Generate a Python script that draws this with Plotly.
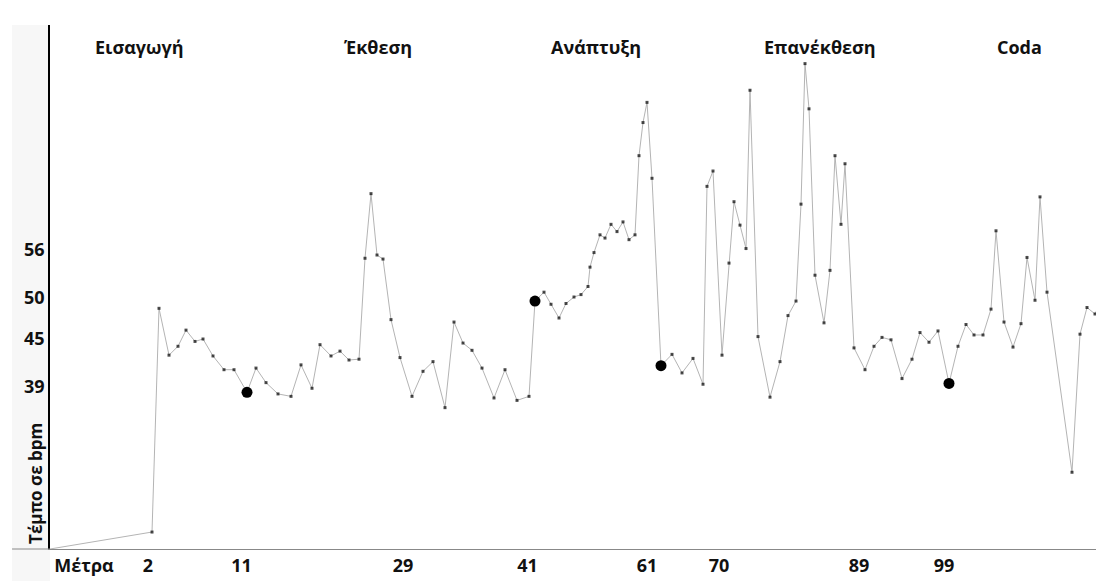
import plotly.graph_objects as go

# Time position of each tempo measurement (arbitrary time units along the piece)
t = [0.0, 10.2, 10.9, 11.9, 12.8, 13.6, 14.5, 15.3, 16.3, 17.4, 18.4, 19.7, 20.6, 21.6, 22.8,
     24.1, 25.1, 26.2, 27.0, 28.1, 29.0, 29.9, 30.9, 31.5, 32.1, 32.7, 33.3, 34.1, 35.0, 36.2,
     37.3, 38.3, 39.5, 40.4, 41.3, 42.2, 43.2, 44.4, 45.5, 46.7, 47.9, 48.5, 49.4, 50.1, 50.9,
     51.6, 52.4, 53.1, 53.8, 54.0, 54.4, 55.0, 55.5, 56.1, 56.7, 57.3, 57.9, 58.5, 58.9, 59.3,
     59.7, 60.2, 61.1, 62.2, 63.2, 64.3, 65.3, 65.7, 66.3, 67.2, 67.9, 68.4, 69.0, 69.6, 70.0,
     70.8, 72.0, 73.0, 73.8, 74.6, 75.1, 75.5, 75.9, 76.5, 77.4, 78.0, 78.5, 79.1, 79.5, 80.4,
     81.5, 82.4, 83.2, 84.1, 85.2, 86.2, 87.0, 87.9, 88.8, 89.9, 90.8, 91.6, 92.4, 93.3, 94.1,
     94.6, 95.4, 96.3, 97.1, 97.7, 98.5, 99.0, 99.7, 102.2, 103.0, 103.7, 104.5, 105.2]

# Tempo in bpm
bpm = [18.9, 21.0, 48.7, 42.9, 44.0, 46.0, 44.6, 44.9, 42.8, 41.1, 41.1, 38.3, 41.3, 39.5, 38.1,
       37.8, 41.7, 38.8, 44.2, 42.8, 43.4, 42.3, 42.4, 54.9, 62.9, 55.3, 54.8, 47.3, 42.6, 37.8,
       40.9, 42.1, 36.4, 47.0, 44.4, 43.5, 41.3, 37.6, 41.1, 37.3, 37.8, 49.6, 50.7, 49.2, 47.5,
       49.3, 50.1, 50.4, 51.4, 53.8, 55.6, 57.8, 57.4, 59.1, 58.2, 59.4, 57.2, 57.8, 67.6, 71.7,
       74.2, 64.8, 41.6, 43.0, 40.7, 42.5, 39.3, 63.8, 65.7, 42.9, 54.3, 61.9, 59.0, 56.1, 75.7,
       45.2, 37.7, 42.1, 47.8, 49.6, 61.6, 79.0, 73.4, 52.8, 46.9, 53.4, 67.6, 59.1, 66.6, 43.8,
       41.1, 44.0, 45.1, 44.8, 40.0, 42.4, 45.7, 44.5, 45.9, 39.4, 44.0, 46.7, 45.4, 45.4, 48.6,
       58.3, 47.0, 43.9, 46.8, 55.0, 49.7, 62.5, 50.7, 28.4, 45.5, 48.8, 48.0, 49.8]

# Indices of the highlighted points (section boundaries)
highlight_idx = [11, 41, 62, 99]

# Measure labels on the time axis
measure_labels = ["Μέτρα", "2", "11", "29", "41", "61", "70", "89", "99"]
measure_pos = [3.4, 9.8, 19.15, 35.3, 47.75, 59.7, 66.9, 80.9, 89.4]

# Tempo tick labels
bpm_ticks = [39, 45, 50, 56]

# Form sections
sections = ["Εισαγωγή", "Έκθεση", "Ανάπτυξη", "Επανέκθεση", "Coda"]
section_pos = [8.9, 32.75, 54.6, 77.0, 96.95]

FONT = "Open Sans"

fig = go.Figure()

sizes = [0] + [3] * (len(t) - 1)
fig.add_trace(go.Scatter(
    x=t, y=bpm, mode="lines+markers",
    line=dict(color="#b4b4b4", width=1),
    marker=dict(symbol="square", size=sizes, color="#000000", line=dict(width=0)),
    hoverinfo="x+y", showlegend=False,
))

fig.add_trace(go.Scatter(
    x=[t[i] for i in highlight_idx], y=[bpm[i] for i in highlight_idx],
    mode="markers", marker=dict(symbol="circle", size=11, color="#000000"),
    showlegend=False,
))

for name, pos in zip(sections, section_pos):
    fig.add_annotation(x=pos, xref="x", y=0.958, yref="paper", text=name,
                       xanchor="center", yanchor="middle", showarrow=False,
                       font=dict(family=FONT, size=18, color="#111111", weight="bold"))

fig.add_annotation(x=-0.0133, xref="paper", y=0.126, yref="paper", text="Τέμπο σε bpm",
                   textangle=-90, xanchor="center", yanchor="middle", showarrow=False,
                   font=dict(family=FONT, size=17, color="#111111", weight="bold"))

# light panel to the left of the value axis and extension of the baseline
fig.add_shape(type="rect", xref="paper", yref="paper", x0=-0.036, x1=0, y0=-0.061, y1=1,
              fillcolor="#f7f7f7", line=dict(width=0), layer="below")
fig.add_shape(type="line", xref="paper", yref="paper", x0=-0.036, x1=0, y0=0, y1=0,
              line=dict(color="#888888", width=1))

fig.update_xaxes(range=[0, 105.4], showgrid=False, zeroline=False,
                 showline=True, linecolor="#888888", linewidth=1,
                 tickmode="array", tickvals=measure_pos, ticktext=measure_labels,
                 ticks="", tickfont=dict(family=FONT, size=18, color="#111111", weight="bold"))
fig.update_yaxes(range=[18.9, 83.78], showgrid=False, zeroline=False,
                 showline=True, linecolor="#000000", linewidth=1.5,
                 tickmode="array", tickvals=bpm_ticks, ticks="",
                 tickfont=dict(family=FONT, size=18, color="#111111", weight="bold"))

# page body has an 8px margin: size the figure so the plot lands where the reference has it
fig.update_layout(width=1096, height=573, margin=dict(l=42, r=0, t=17, b=32),
                  plot_bgcolor="white", paper_bgcolor="white", showlegend=False)

fig.write_html("out.html")
